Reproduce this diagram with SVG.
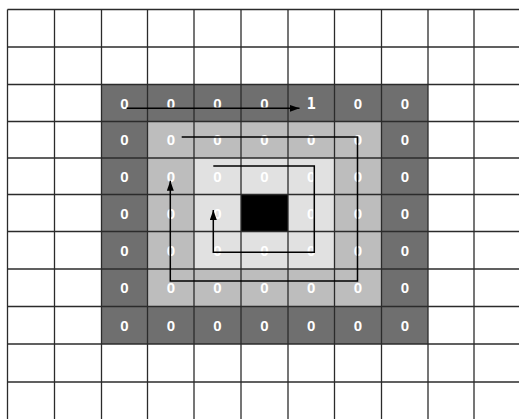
<svg xmlns="http://www.w3.org/2000/svg" width="519" height="419" viewBox="0 0 519 419">
<defs>
<style>
.grid line{stroke:#2b2b2b;stroke-width:1.3}
.t{font-family:"Liberation Sans",Arial,sans-serif;font-weight:bold;font-size:15px;fill:#ffffff;text-anchor:middle}
.one{font-family:"DejaVu Sans Mono","Liberation Mono",monospace;font-weight:bold;font-size:15px}
.arr{fill:none;stroke:#000;stroke-width:1.5}
</style>
<marker id="ah" markerUnits="userSpaceOnUse" markerWidth="11" markerHeight="8" refX="10" refY="3.5" orient="auto">
<path d="M0,0 L10,3.5 L0,7 z" fill="#000"/>
</marker>
</defs>
<rect width="519" height="419" fill="#fff"/>
<g id="rings">
<rect x="101.5" y="84.5" width="326.5" height="259.5" fill="#6f6f6f"/>
<rect x="147.5" y="121.5" width="234" height="185" fill="#bdbdbd"/>
<rect x="194" y="158" width="140.5" height="111" fill="#e1e1e1"/>
<rect id="center" x="241" y="194.5" width="47" height="37" fill="#000"/>
</g>
<g class="grid">
<line x1="7.5" y1="9.5" x2="7.5" y2="419"/>
<line x1="54.5" y1="9.5" x2="54.5" y2="419"/>
<line x1="101.5" y1="9.5" x2="101.5" y2="419"/>
<line x1="147.5" y1="9.5" x2="147.5" y2="419"/>
<line x1="194" y1="9.5" x2="194" y2="419"/>
<line x1="241" y1="9.5" x2="241" y2="419"/>
<line x1="288" y1="9.5" x2="288" y2="419"/>
<line x1="334.5" y1="9.5" x2="334.5" y2="419"/>
<line x1="381.5" y1="9.5" x2="381.5" y2="419"/>
<line x1="428" y1="9.5" x2="428" y2="419"/>
<line x1="474" y1="9.5" x2="474" y2="419"/>
<line x1="7.5" y1="9.5" x2="519" y2="9.5"/>
<line x1="7.5" y1="47" x2="519" y2="47"/>
<line x1="7.5" y1="84.5" x2="519" y2="84.5"/>
<line x1="7.5" y1="121.5" x2="519" y2="121.5"/>
<line x1="7.5" y1="158" x2="519" y2="158"/>
<line x1="7.5" y1="194.5" x2="519" y2="194.5"/>
<line x1="7.5" y1="231.5" x2="519" y2="231.5"/>
<line x1="7.5" y1="269" x2="519" y2="269"/>
<line x1="7.5" y1="306.5" x2="519" y2="306.5"/>
<line x1="7.5" y1="344" x2="519" y2="344"/>
<line x1="7.5" y1="382" x2="519" y2="382"/>
</g>
<g id="row2" class="t">
<text x="124.5" y="108.5">0</text><text x="171" y="108.5">0</text><text x="217.5" y="108.5">0</text><text x="264.5" y="108.5">0</text><text class="one" x="311.2" y="108.5">1</text><text x="358" y="108.5">0</text><text x="404.8" y="108.5">0</text>
</g>
<g id="row3" class="t">
<text x="124.5" y="145.2">0</text><text x="171" y="145.2">0</text><text x="217.5" y="145.2">0</text><text x="264.5" y="145.2">0</text><text x="311.2" y="145.2">0</text><text x="358" y="145.2">0</text><text x="404.8" y="145.2">0</text>
</g>
<g id="row4" class="t">
<text x="124.5" y="181.7">0</text><text x="171" y="181.7">0</text><text x="217.5" y="181.7">0</text><text x="264.5" y="181.7">0</text><text x="311.2" y="181.7">0</text><text x="358" y="181.7">0</text><text x="404.8" y="181.7">0</text>
</g>
<g id="row5" class="t">
<text x="124.5" y="218.5">0</text><text x="171" y="218.5">0</text><text x="217.5" y="218.5">0</text><text x="311.2" y="218.5">0</text><text x="358" y="218.5">0</text><text x="404.8" y="218.5">0</text>
</g>
<g id="row6" class="t">
<text x="124.5" y="255.7">0</text><text x="171" y="255.7">0</text><text x="217.5" y="255.7">0</text><text x="264.5" y="255.7">0</text><text x="311.2" y="255.7">0</text><text x="358" y="255.7">0</text><text x="404.8" y="255.7">0</text>
</g>
<g id="row7" class="t">
<text x="124.5" y="293.2">0</text><text x="171" y="293.2">0</text><text x="217.5" y="293.2">0</text><text x="264.5" y="293.2">0</text><text x="311.2" y="293.2">0</text><text x="358" y="293.2">0</text><text x="404.8" y="293.2">0</text>
</g>
<g id="row8" class="t">
<text x="124.5" y="330.7">0</text><text x="171" y="330.7">0</text><text x="217.5" y="330.7">0</text><text x="264.5" y="330.7">0</text><text x="311.2" y="330.7">0</text><text x="358" y="330.7">0</text><text x="404.8" y="330.7">0</text>
</g>
<g id="connectors">
<path class="arr" d="M126.7,108.3 H299.5" marker-end="url(#ah)"/>
<path class="arr" d="M181.7,137 H357.5 V281 H170.3 V180.7" marker-end="url(#ah)"/>
<path class="arr" d="M213.3,166 H314.3 V252.3 H213.3 V210" marker-end="url(#ah)"/>
</g>
</svg>
